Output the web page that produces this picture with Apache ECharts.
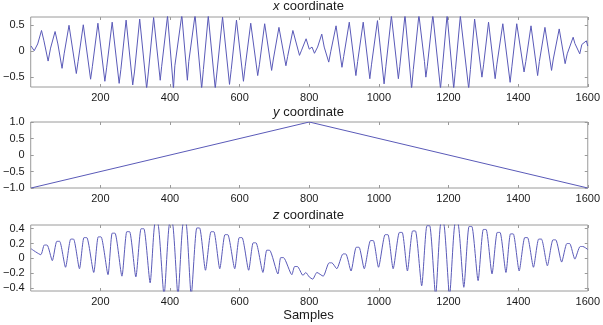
<!DOCTYPE html>
<html lang="en">
<head>
<meta charset="UTF-8">
<title>Coordinates</title>
<script src="https://cdn.jsdelivr.net/npm/echarts@6/dist/echarts.min.js"></script>
<style>
  html, body { margin: 0; padding: 0; background: #fff; }
  #main { width: 603px; height: 325px; }
</style>
</head>
<body>
<div id="main"></div>
<script>
// samples on the shared x axis
const sampleTicks = [200, 400, 600, 800, 1000, 1200, 1400, 1600];

// x coordinate: [sample, value] (peaks, troughs, kinks)
const xSig = [[1,0.10],[10,0.01],[20,0.14],[31,0.40],[38,0.20],[50,-0.19],[57,0.06],[70,0.38],[78,0.14],[90,-0.33],[96,-0.05],
  [110,0.50],[131,-0.43],[136,-0.20],[151,0.51],[172,-0.54],[177,-0.30],[193,0.54],[213,-0.58],[218,-0.32],[234,0.56],
  [254,-0.62],[259,-0.35],[274,0.60],[293,-0.65],[298,-0.40],[313,0.62],[333,-0.72],[338,-0.40],[353,0.65],[372,-0.56],
  [376,-0.30],[393,0.68],[410,-0.72],[414,-0.28],[434,0.70],[450,-0.56],[454,-0.20],[472,0.70],[491,-0.72],[496,-0.35],
  [510,0.68],[530,-0.72],[535,-0.40],[551,0.66],[571,-0.64],[576,-0.35],[591,0.60],[611,-0.58],[616,-0.30],[632,0.54],
  [652,-0.47],[657,-0.25],[672,0.53],[692,-0.37],[697,-0.15],[713,0.46],[733,-0.28],[738,-0.10],[753,0.40],[772,-0.08],
  [778,0.02],[791,0.24],[800,0.04],[808,0.08],[815,-0.04],[824,0.08],[836,0.33],[843,0.08],[856,-0.21],[862,0.00],
  [877,0.49],[894,-0.31],[899,-0.10],[915,0.56],[934,-0.47],[939,-0.20],[955,0.56],[974,-0.53],[979,-0.25],[996,0.59],
  [1015,-0.63],[1020,-0.30],[1036,0.68],[1056,-0.53],[1060,-0.30],[1075,0.70],[1094,-0.72],[1099,-0.35],[1115,0.70],
  [1131,-0.20],[1135,-0.50],[1139,-0.30],[1155,0.70],[1177,-0.72],[1182,-0.35],[1196,0.70],[1215,-0.72],[1220,-0.35],
  [1234,0.68],[1258,-0.72],[1263,-0.35],[1275,0.62],[1296,-0.50],[1301,-0.25],[1315,0.56],[1334,-0.53],[1339,-0.25],
  [1356,0.53],[1377,-0.60],[1382,-0.30],[1396,0.53],[1417,-0.40],[1422,-0.20],[1437,0.49],[1456,-0.47],[1461,-0.20],
  [1477,0.46],[1496,-0.37],[1501,-0.15],[1518,0.43],[1535,-0.24],[1541,-0.05],[1558,0.27],[1563,0.15],[1577,-0.05],
  [1583,0.13],[1596,0.20],[1600,0.10]];

// y coordinate: straight ramp up then down
const ySig = [[1,-1],[800,1],[1600,-1]];

// z coordinate: troughs and the two shoulders of each rounded top
const zSig = [[1,0.13],[29,0.05],[39,0.18],[47,0.18],[62,-0.03],[75,0.23],[83,0.23],[100,-0.12],[115,0.26],[123,0.26],
  [140,-0.14],[153,0.28],[161,0.28],[181,-0.19],[194,0.29],[202,0.29],[222,-0.22],[234,0.34],[242,0.34],[262,-0.24],
  [276,0.36],[284,0.36],[302,-0.25],[317,0.40],[325,0.40],[343,-0.33],[357,0.47],[365,0.47],[383,-0.50],[399,0.47],
  [407,0.47],[423,-0.50],[438,0.47],[446,0.47],[461,-0.50],[477,0.41],[485,0.41],[502,-0.16],[518,0.36],[526,0.36],
  [543,-0.14],[558,0.32],[566,0.32],[586,-0.14],[599,0.28],[607,0.28],[626,-0.16],[639,0.21],[647,0.21],[667,-0.19],
  [678,0.11],[686,0.11],[710,-0.21],[718,0.01],[726,0.01],[750,-0.22],[758,-0.11],[766,-0.11],[782,-0.23],[790,-0.19],
  [800,-0.25],[810,-0.28],[822,-0.19],[840,-0.24],[857,-0.06],[865,-0.06],[879,-0.14],[897,0.06],[905,0.06],[920,-0.17],
  [935,0.15],[943,0.15],[958,-0.14],[976,0.24],[984,0.24],[999,-0.12],[1018,0.32],[1026,0.32],[1041,-0.14],[1059,0.35],
  [1067,0.35],[1082,-0.17],[1097,0.37],[1105,0.37],[1123,-0.37],[1138,0.44],[1146,0.44],[1163,-0.50],[1178,0.47],
  [1186,0.47],[1203,-0.50],[1219,0.47],[1227,0.47],[1244,-0.39],[1259,0.43],[1267,0.43],[1285,-0.30],[1300,0.39],
  [1308,0.39],[1325,-0.21],[1340,0.35],[1348,0.35],[1365,-0.19],[1378,0.33],[1386,0.33],[1403,-0.17],[1419,0.28],
  [1427,0.28],[1444,-0.12],[1459,0.26],[1467,0.26],[1484,-0.10],[1500,0.25],[1508,0.25],[1525,-0.05],[1540,0.20],
  [1548,0.20],[1563,-0.01],[1578,0.16],[1586,0.16],[1600,0.12]];

// tick values and their labels per panel
const xPanelTicks = [-0.5, 0, 0.5];
const xPanelLabels = ['\u22120.5', '0', '0.5'];
const yPanelTicks = [-1, -0.5, 0, 0.5, 1];
const yPanelLabels = ['\u22121.0', '\u22120.5', '0', '0.5', '1.0'];
const zPanelTicks = [-0.4, -0.2, 0, 0.2, 0.4];
const zPanelLabels = ['\u22120.4', '\u22120.2', '0', '0.2', '0.4'];

const titles = ['x', 'y', 'z'];

const lineColor = '#5a5ab8';
const frameColor = '#9a9a9a';
const textColor = '#1a1a1a';
const font = 'Liberation Sans, Arial, sans-serif';

let grids = [
    {left: 29, right: 15, top: 17, height: 70},
    {left: 29, right: 15, top: 122, height: 66},
    {left: 29, right: 15, top: 225, height: 66}
];
let yRanges = [[-0.69, 0.66], [-1, 1], [-0.44, 0.45]];
let yTicks = [xPanelTicks, yPanelTicks, zPanelTicks];
let yLabels = [xPanelLabels, yPanelLabels, zPanelLabels];
let signals = [xSig, ySig, zSig];
let titleTops = [0, 106, 209];

let xAxes = [], yAxes = [], series = [], titleList = [];

grids.forEach((g, i) => {
    g.show = true;
    g.borderColor = frameColor;
    g.borderWidth = 1;
    g.backgroundColor = 'transparent';

    ['bottom', 'top'].forEach(pos => {
        xAxes.push({
            type: 'value', gridIndex: i, position: pos,
            min: 0, max: 1600,
            axisLine: {show: false, onZero: false},
            splitLine: {show: false},
            axisTick: {show: true, inside: true, length: 3, customValues: sampleTicks,
                lineStyle: {color: frameColor}},
            axisLabel: {show: pos === 'bottom', customValues: sampleTicks, margin: 5,
                color: textColor, fontSize: 11, fontFamily: font,
                formatter: v => String(v)}
        });
    });
    ['left', 'right'].forEach(pos => {
        let labels = yLabels[i], ticks = yTicks[i];
        yAxes.push({
            type: 'value', gridIndex: i, position: pos,
            min: yRanges[i][0], max: yRanges[i][1],
            axisLine: {show: false, onZero: false},
            splitLine: {show: false},
            axisTick: {show: true, inside: true, length: 3, customValues: ticks,
                lineStyle: {color: frameColor}},
            axisLabel: {show: pos === 'left', customValues: ticks, margin: 6,
                color: textColor, fontSize: 11, fontFamily: font,
                formatter: v => {
                    let k = ticks.findIndex(t => Math.abs(t - v) < 1e-9);
                    return k >= 0 ? labels[k] : '';
                }}
        });
    });

    series.push({
        type: 'line',
        xAxisIndex: i * 2, yAxisIndex: i * 2,
        data: signals[i],
        showSymbol: false,
        smooth: i === 2 ? 0.2 : false,
        clip: true,
        lineStyle: {color: lineColor, width: 1},
        itemStyle: {color: lineColor},
        animation: false
    });

    titleList.push({
        text: '{i|' + titles[i] + '} coordinate',
        left: 308.5, top: titleTops[i], textAlign: 'center', padding: 0,
        textStyle: {
            fontSize: 13, fontWeight: 'normal', color: textColor, fontFamily: font,
            rich: {i: {fontStyle: 'italic', fontSize: 13, color: textColor, fontFamily: font}}
        }
    });
});

titleList.push({
    text: 'Samples', left: 308.5, top: 309, textAlign: 'center', padding: 0,
    textStyle: {fontSize: 13, fontWeight: 'normal', color: textColor, fontFamily: font}
});

let myChart = echarts.init(document.getElementById('main'), null, {renderer: 'canvas'});
myChart.setOption({
    animation: false,
    title: titleList,
    grid: grids,
    xAxis: xAxes,
    yAxis: yAxes,
    series: series
});
</script>
</body>
</html>
